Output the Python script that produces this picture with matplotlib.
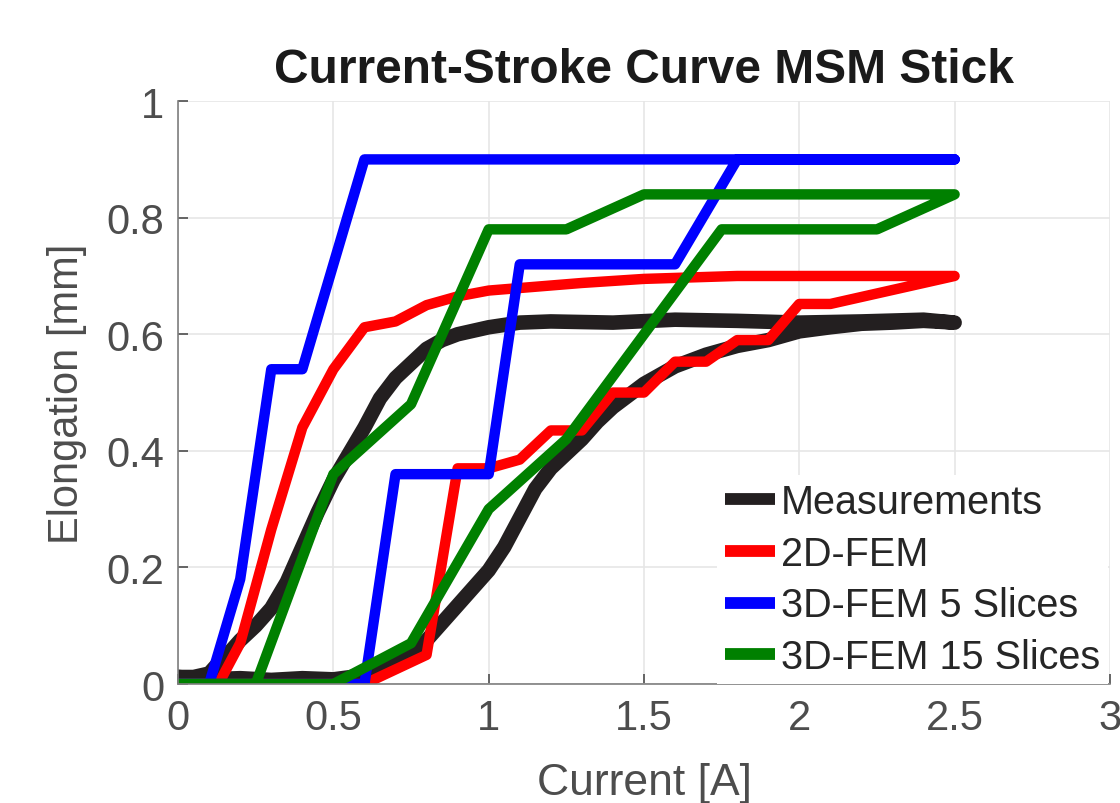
import matplotlib
matplotlib.use("Agg")
import matplotlib.pyplot as plt

# Measurements (hysteresis loop: rising branch, then falling branch)
meas_x = [0, 0.1, 0.2, 0.3, 0.4, 0.5, 0.6, 0.65, 0.7, 0.75, 0.8, 0.85, 0.9, 0.95,
          1.0, 1.05, 1.1, 1.15, 1.2, 1.25, 1.3, 1.35, 1.4, 1.45, 1.5, 1.6, 1.7,
          1.8, 1.9, 2.0, 2.1, 2.2, 2.3, 2.4, 2.5,
          2.4, 2.2, 2.0, 1.8, 1.6, 1.4, 1.2, 1.1, 1.0, 0.9, 0.85, 0.8, 0.75, 0.7,
          0.65, 0.6, 0.55, 0.5, 0.45, 0.4, 0.35, 0.3, 0.25, 0.2, 0.15, 0.12, 0.1,
          0.05, 0]
meas_y = [0.012, 0.008, 0.01, 0.007, 0.01, 0.008, 0.015, 0.025, 0.035, 0.05, 0.075,
          0.105, 0.135, 0.165, 0.195, 0.235, 0.285, 0.335, 0.37, 0.395, 0.42, 0.45,
          0.475, 0.495, 0.515, 0.545, 0.565, 0.58, 0.59, 0.605, 0.612, 0.618, 0.62,
          0.623, 0.62,
          0.625, 0.622, 0.62, 0.623, 0.625, 0.62, 0.622, 0.62, 0.612, 0.60, 0.59,
          0.575, 0.55, 0.525, 0.49, 0.44, 0.395, 0.35, 0.295, 0.235, 0.175, 0.13,
          0.10, 0.075, 0.045, 0.03, 0.018, 0.012, 0.012]

fem2d_x = [0, 0.6, 0.8, 0.9, 1.0, 1.1, 1.2, 1.3, 1.4, 1.5, 1.6, 1.7, 1.8, 1.9, 2.0,
           2.1, 2.5,
           1.8, 1.5, 1.3, 1.0, 0.9, 0.8, 0.7, 0.6, 0.5, 0.4, 0.3, 0.2, 0.13, 0]
fem2d_y = [0, 0, 0.05, 0.37, 0.37, 0.385, 0.435, 0.435, 0.5, 0.5, 0.553, 0.553, 0.59,
           0.59, 0.652, 0.652, 0.70,
           0.70, 0.695, 0.688, 0.675, 0.665, 0.65, 0.622, 0.612, 0.54, 0.44, 0.265,
           0.07, 0, 0]

fem3d5_x = [0, 0.6, 0.7, 1.0, 1.1, 1.6, 1.8, 2.5,
            0.6, 0.4, 0.3, 0.2, 0.1, 0]
fem3d5_y = [0, 0, 0.36, 0.36, 0.72, 0.72, 0.90, 0.90,
            0.90, 0.54, 0.54, 0.18, 0, 0]

fem3d15_x = [0, 0.5, 0.75, 1.0, 1.25, 1.75, 2.25, 2.5,
             1.5, 1.25, 1.0, 0.75, 0.5, 0.25, 0]
fem3d15_y = [0, 0, 0.07, 0.30, 0.42, 0.78, 0.78, 0.84,
             0.84, 0.78, 0.78, 0.48, 0.36, 0, 0]

x_ticks = [0, 0.5, 1, 1.5, 2, 2.5, 3]
x_tick_labels = ["0", "0.5", "1", "1.5", "2", "2.5", "3"]
y_ticks = [0, 0.2, 0.4, 0.6, 0.8, 1]
y_tick_labels = ["0", "0.2", "0.4", "0.6", "0.8", "1"]

font = ["Liberation Sans", "DejaVu Sans"]
gray = "#4d4d4d"

fig = plt.figure(figsize=(11.2, 8.04), dpi=100)
ax = fig.add_axes([0.159, 0.148, 0.832, 0.725])

style = dict(solid_capstyle="round", solid_joinstyle="round")
ax.plot(meas_x, meas_y, color="#231f20", lw=10.5, label="Measurements", **style)
ax.plot(fem2d_x, fem2d_y, color="#ff0000", lw=7.5, label="2D-FEM", **style)
ax.plot(fem3d5_x, fem3d5_y, color="#0000ff", lw=7.5, label="3D-FEM 5 Slices", **style)
ax.plot(fem3d15_x, fem3d15_y, color="#008000", lw=7.5, label="3D-FEM 15 Slices", **style)

ax.set_xlim(0, 3)
ax.set_ylim(0, 1)
ax.set_xticks(x_ticks)
ax.set_xticklabels(x_tick_labels, family=font, fontsize=30, color=gray)
ax.set_yticks(y_ticks)
ax.set_yticklabels(y_tick_labels, family=font, fontsize=30, color=gray)
ax.tick_params(direction="in", length=7, width=1.2, color=gray, pad=10)

ax.grid(True, color="#e6e6e6", lw=1.2)
ax.set_axisbelow(True)
for side in ["top", "right"]:
    ax.spines[side].set_visible(False)
for side in ["left", "bottom"]:
    ax.spines[side].set_color("#7f7f7f")
    ax.spines[side].set_linewidth(1.2)

ax.set_title("Current-Stroke Curve MSM Stick", family=font, fontweight="bold",
             fontsize=34.5, color="#1a1a1a", pad=14)
ax.set_xlabel("Current [A]", family=font, fontsize=32, color=gray, labelpad=17)
ax.set_ylabel("Elongation [mm]", family=font, fontsize=30, color=gray, labelpad=14)

leg = ax.legend(loc="lower right", bbox_to_anchor=(0.998, 0.0), borderaxespad=0,
                prop={"family": font, "size": 28.5}, frameon=True, fancybox=False,
                edgecolor="none", facecolor="white", framealpha=1,
                handlelength=1.26, handletextpad=0.15, labelspacing=0.345,
                borderpad=0.2)
for line in leg.get_lines():
    line.set_linewidth(8.5)
    line.set_solid_capstyle("butt")
for t in leg.get_texts():
    t.set_color("#262626")

fig.savefig("out.png", dpi=100)
